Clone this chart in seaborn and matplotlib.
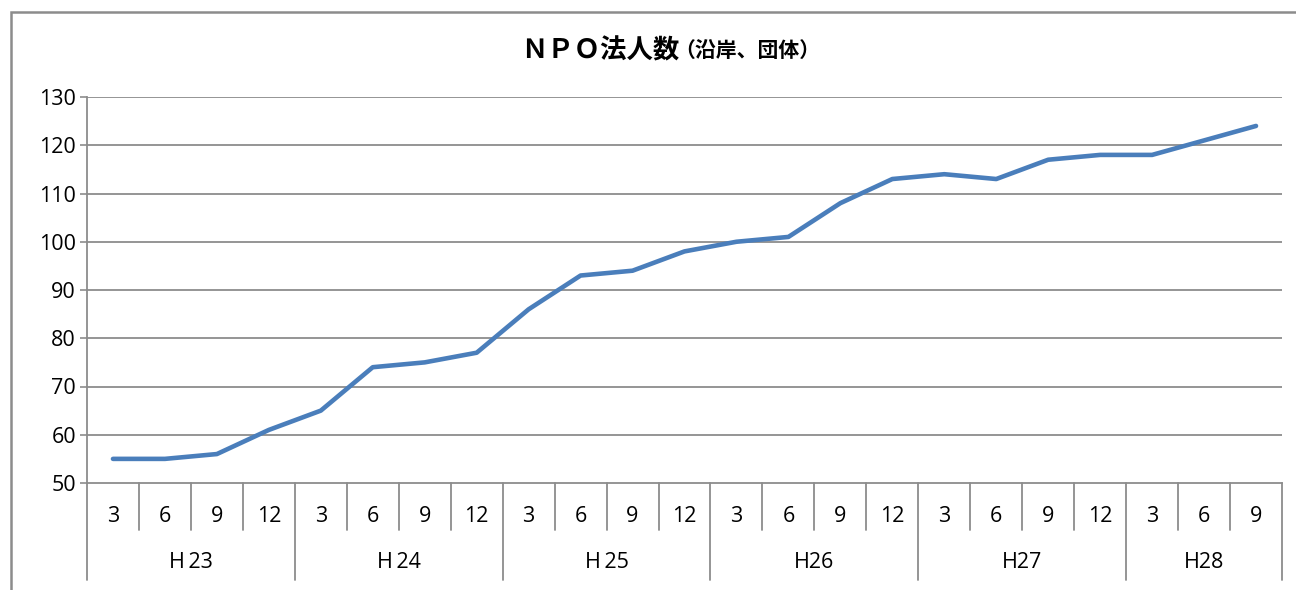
import matplotlib
matplotlib.use("Agg")
import matplotlib.pyplot as plt
import matplotlib.transforms as mtransforms
from matplotlib.patches import Rectangle
import numpy as np
import pandas as pd
import seaborn as sns

# data
years = ["Ｈ23", "Ｈ24", "Ｈ25", "H26", "H27", "H28"]
months_per_year = [
    ["3", "6", "9", "12"],
    ["3", "6", "9", "12"],
    ["3", "6", "9", "12"],
    ["3", "6", "9", "12"],
    ["3", "6", "9", "12"],
    ["3", "6", "9"],
]
npo_counts = [55, 55, 56, 61, 65, 74, 75, 77, 86, 93, 94, 98,
              100, 101, 108, 113, 114, 113, 117, 118, 118, 121, 124]
y_ticks = [50, 60, 70, 80, 90, 100, 110, 120, 130]

title_main = "ＮＰＯ法人数"
title_sub = "（沿岸、団体）"

LINE_COLOR = "#4A7EBB"
GRID_COLOR = "#8C8C8C"
W, H = 1296, 590
LABEL_SIZE = 15.5

sns.set_style("white")
plt.rcParams["font.family"] = ["Open Sans", "Noto Sans CJK JP", "DejaVu Sans"]
plt.rcParams["text.color"] = "black"
plt.rcParams["ytick.labelcolor"] = "black"

df = pd.DataFrame({"pos": np.arange(len(npo_counts)), "count": npo_counts})

fig = plt.figure(figsize=(W / 100, H / 100), dpi=100)
ax = fig.add_axes([87 / W, (H - 483) / H, (1282 - 87) / W, (483 - 97) / H])

sns.lineplot(data=df, x="pos", y="count", ax=ax, color=LINE_COLOR,
             linewidth=3.3, solid_capstyle="round")

ax.set_xlim(-0.5, len(npo_counts) - 0.5)
ax.set_ylim(y_ticks[0], y_ticks[-1])
ax.set_yticks(y_ticks)
ax.set_xticks([])
ax.set_xlabel("")
ax.set_ylabel("")
ax.tick_params(axis="y", direction="out", length=5, width=1.2,
               color=GRID_COLOR, labelsize=LABEL_SIZE, labelcolor="black",
               pad=3, left=True)
for y in y_ticks[1:]:
    ax.axhline(y, color=GRID_COLOR, linewidth=1.3, zorder=0)
for side in ["top", "right"]:
    ax.spines[side].set_visible(False)
for side in ["left", "bottom"]:
    ax.spines[side].set_color(GRID_COLOR)
    ax.spines[side].set_linewidth(1.3)

# two-level category axis drawn below the plot
trans = mtransforms.blended_transform_factory(ax.transData, fig.transFigure)
y_axis = (H - 483) / H
y_short = (H - 530) / H
y_long = (H - 580) / H
y_month = (H - 516) / H
y_year = (H - 563) / H

start = 0
for year, ms in zip(years, months_per_year):
    left = start - 0.5
    right = start + len(ms) - 0.5
    ax.plot([left, left], [y_axis, y_long], transform=trans, color=GRID_COLOR,
            linewidth=1.3, clip_on=False)
    for k, m in enumerate(ms):
        pos = start + k
        if k > 0:
            ax.plot([pos - 0.5, pos - 0.5], [y_axis, y_short], transform=trans,
                    color=GRID_COLOR, linewidth=1.3, clip_on=False)
        ax.text(pos, y_month, m, transform=trans, ha="center", va="center",
                fontsize=LABEL_SIZE)
    if year.startswith("Ｈ"):
        label = "H\u2009" + year[1:]
    else:
        label = year
    ax.text((left + right) / 2, y_year, label, transform=trans, ha="center",
            va="center", fontsize=LABEL_SIZE)
    start += len(ms)
ax.plot([start - 0.5, start - 0.5], [y_axis, y_long], transform=trans,
        color=GRID_COLOR, linewidth=1.3, clip_on=False)

# title: large main part and smaller parenthetical
title_x = 679 / W
title_y = (H - 58) / H
fig.text(title_x, title_y, title_main, ha="right", va="baseline",
         fontsize=19, fontweight="bold", family=["Noto Sans CJK JP"])
fig.text(title_x - 5 / W, title_y, title_sub, ha="left", va="baseline",
         fontsize=15, fontweight="bold", family=["Noto Sans CJK JP"])

# outer chart frame (partly cropped in the reference)
fig.patches.append(Rectangle((11 / W, -0.1), 1.2, (H - 12) / H + 0.1,
                             transform=fig.transFigure, fill=False,
                             edgecolor="#8C8C8C", linewidth=1.8))

fig.savefig("out.png", dpi=100)
